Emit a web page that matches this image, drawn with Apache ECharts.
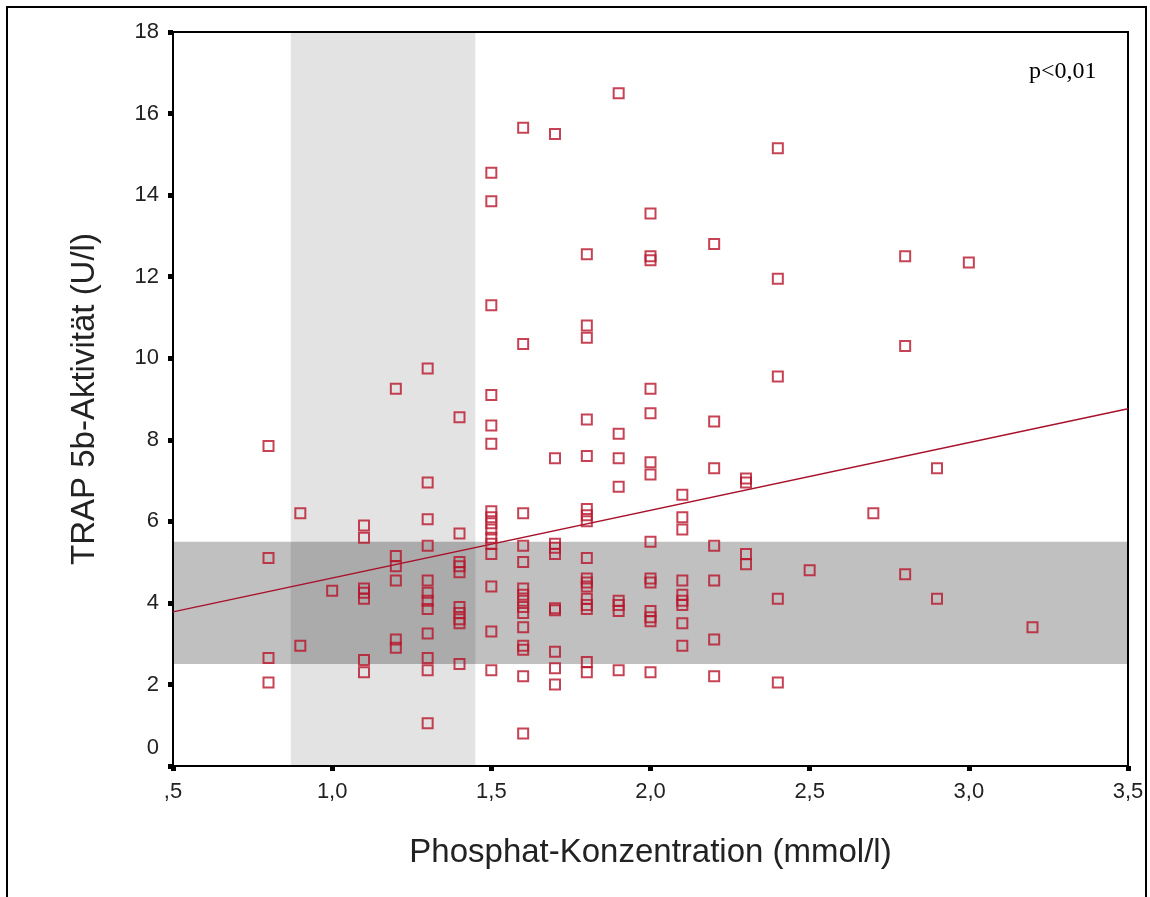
<!DOCTYPE html>
<html>
<head>
<meta charset="utf-8">
<script src="https://cdn.jsdelivr.net/npm/echarts@6/dist/echarts.min.js"></script>
<style>
  html, body { margin: 0; padding: 0; background: #fff; }
  #chart { width: 1150px; height: 897px; }
</style>
</head>
<body>
<div id="chart"></div>
<script>
// phosphate levels (x) and the TRAP 5b values measured at each level (y)
const phosphatLevels = [0.8, 0.9, 1.0, 1.1, 1.2, 1.3, 1.4, 1.5, 1.6, 1.7, 1.8, 1.9, 2.0, 2.1, 2.2, 2.3, 2.4, 2.5, 2.7, 2.8, 2.9, 3.0, 3.2];
const trapByLevel = [
  [7.85, 5.1, 2.65, 2.05],
  [6.2, 2.95],
  [4.3],
  [5.9, 5.6, 4.35, 4.25, 4.1, 2.6, 2.3],
  [9.25, 5.15, 4.9, 4.55, 3.1, 2.9],
  [9.75, 6.95, 6.05, 5.4, 4.55, 4.25, 4.05, 3.85, 3.25, 2.65, 2.35, 1.05],
  [8.55, 5.7, 5.0, 4.9, 4.75, 3.9, 3.75, 3.6, 3.5, 2.5],
  [14.55, 13.85, 11.3, 9.1, 8.35, 7.9, 6.25, 6.1, 5.95, 5.8, 5.6, 5.45, 5.2, 4.4, 3.3, 2.35],
  [15.65, 10.35, 6.2, 5.4, 5.0, 4.35, 4.2, 4.05, 3.9, 3.75, 3.4, 2.95, 2.85, 2.2, 0.8],
  [15.5, 7.55, 5.45, 5.35, 5.2, 3.87, 3.82, 2.8, 2.4, 2.0],
  [12.55, 10.8, 10.5, 8.5, 7.6, 6.3, 6.15, 6.0, 5.1, 4.6, 4.5, 4.4, 4.1, 3.95, 3.85, 2.55, 2.3],
  [16.5, 8.15, 7.55, 6.85, 4.05, 3.95, 3.8, 2.35],
  [13.55, 12.5, 12.4, 9.25, 8.65, 7.45, 7.15, 5.5, 4.6, 4.5, 3.8, 3.65, 3.55, 2.3],
  [6.65, 6.1, 5.8, 4.55, 4.2, 4.05, 3.95, 3.5, 2.95],
  [12.8, 8.45, 7.3, 5.4, 4.55, 3.1, 2.2],
  [7.05, 6.95, 5.2, 4.95],
  [15.15, 11.95, 9.55, 4.1, 2.05],
  [4.8],
  [6.2],
  [12.5, 10.3, 4.7],
  [7.3, 4.1],
  [12.35],
  [3.4]
];

// fitted line end points
const fitX = [0.5, 3.5];
const fitY = [3.78, 8.76];

// reference ranges (shaded bands)
const refPhosphat = [0.87, 1.45];
const refTrap = [2.5, 5.5];

const xTicks = { min: 0.5, max: 3.5, step: 0.5 };
const yTicks = { min: 0, max: 18, step: 2 };

const points = [];
phosphatLevels.forEach((p, i) => {
  trapByLevel[i].forEach((t) => points.push([p, t]));
});
const fitLine = fitX.map((x, i) => [x, fitY[i]]);

const FONT = "'Liberation Sans', Arial, sans-serif";

const chart = echarts.init(document.getElementById("chart"), null, { renderer: "canvas" });

chart.setOption({
  backgroundColor: "#fff",
  animation: false,
  grid: {
    left: 173,
    top: 32,
    right: 22,
    bottom: 131,
    show: true,
    borderColor: "#000",
    borderWidth: 2
  },
  xAxis: {
    type: "value",
    min: xTicks.min,
    max: xTicks.max,
    interval: xTicks.step,
    name: "Phosphat-Konzentration (mmol/l)",
    nameLocation: "middle",
    nameGap: 70,
    nameTextStyle: { fontFamily: FONT, fontSize: 33, color: "#222" },
    axisLine: { lineStyle: { color: "#000", width: 2 } },
    axisTick: { length: 5, lineStyle: { color: "#000", width: 5 } },
    axisLabel: {
      margin: 15,
      fontFamily: FONT,
      fontSize: 22,
      color: "#222",
      formatter: (v) => v.toFixed(1).replace(".", ",").replace(/^0,/, ",")
    },
    splitLine: { show: false }
  },
  yAxis: {
    type: "value",
    min: yTicks.min,
    max: yTicks.max,
    interval: yTicks.step,
    name: "TRAP 5b-Aktivität (U/l)",
    nameLocation: "middle",
    nameGap: 72,
    nameTextStyle: { fontFamily: FONT, fontSize: 33, color: "#222" },
    axisLine: { lineStyle: { color: "#000", width: 2 } },
    axisTick: { length: 5, lineStyle: { color: "#000", width: 5 } },
    axisLabel: {
      margin: 14,
      fontFamily: FONT,
      fontSize: 22,
      color: "#222",
      formatter: (v) => (v === 0 ? "{z|0}" : String(v)),
      rich: { z: { fontFamily: FONT, fontSize: 22, color: "#222", padding: [0, 0, 36, 0] } }
    },
    splitLine: { show: false }
  },
  series: [
    {
      type: "scatter",
      data: points,
      symbol: "rect",
      symbolSize: 10,
      z: 3,
      itemStyle: { color: "rgba(0,0,0,0)", borderColor: "#b8142a", borderWidth: 2 },
      markArea: {
        silent: true,
        z: 1,
        data: [
          [
            { xAxis: refPhosphat[0], itemStyle: { color: "rgba(0,0,0,0.11)" } },
            { xAxis: refPhosphat[1] }
          ],
          [
            { yAxis: refTrap[0], itemStyle: { color: "rgba(0,0,0,0.247)" } },
            { yAxis: refTrap[1] }
          ]
        ]
      }
    },
    {
      type: "line",
      data: fitLine,
      symbol: "none",
      z: 2,
      lineStyle: { color: "#a8102a", width: 1.5 }
    }
  ],
  graphic: [
    {
      type: "rect",
      silent: true,
      shape: { x: 7, y: 7, width: 1139, height: 920 },
      style: { fill: null, stroke: "#000", lineWidth: 2 }
    },
    {
      type: "text",
      left: 1029,
      top: 60,
      style: {
        text: "p<0,01",
        font: "24px 'Liberation Serif', 'Times New Roman', serif",
        fill: "#000"
      }
    }
  ]
});
</script>
</body>
</html>
